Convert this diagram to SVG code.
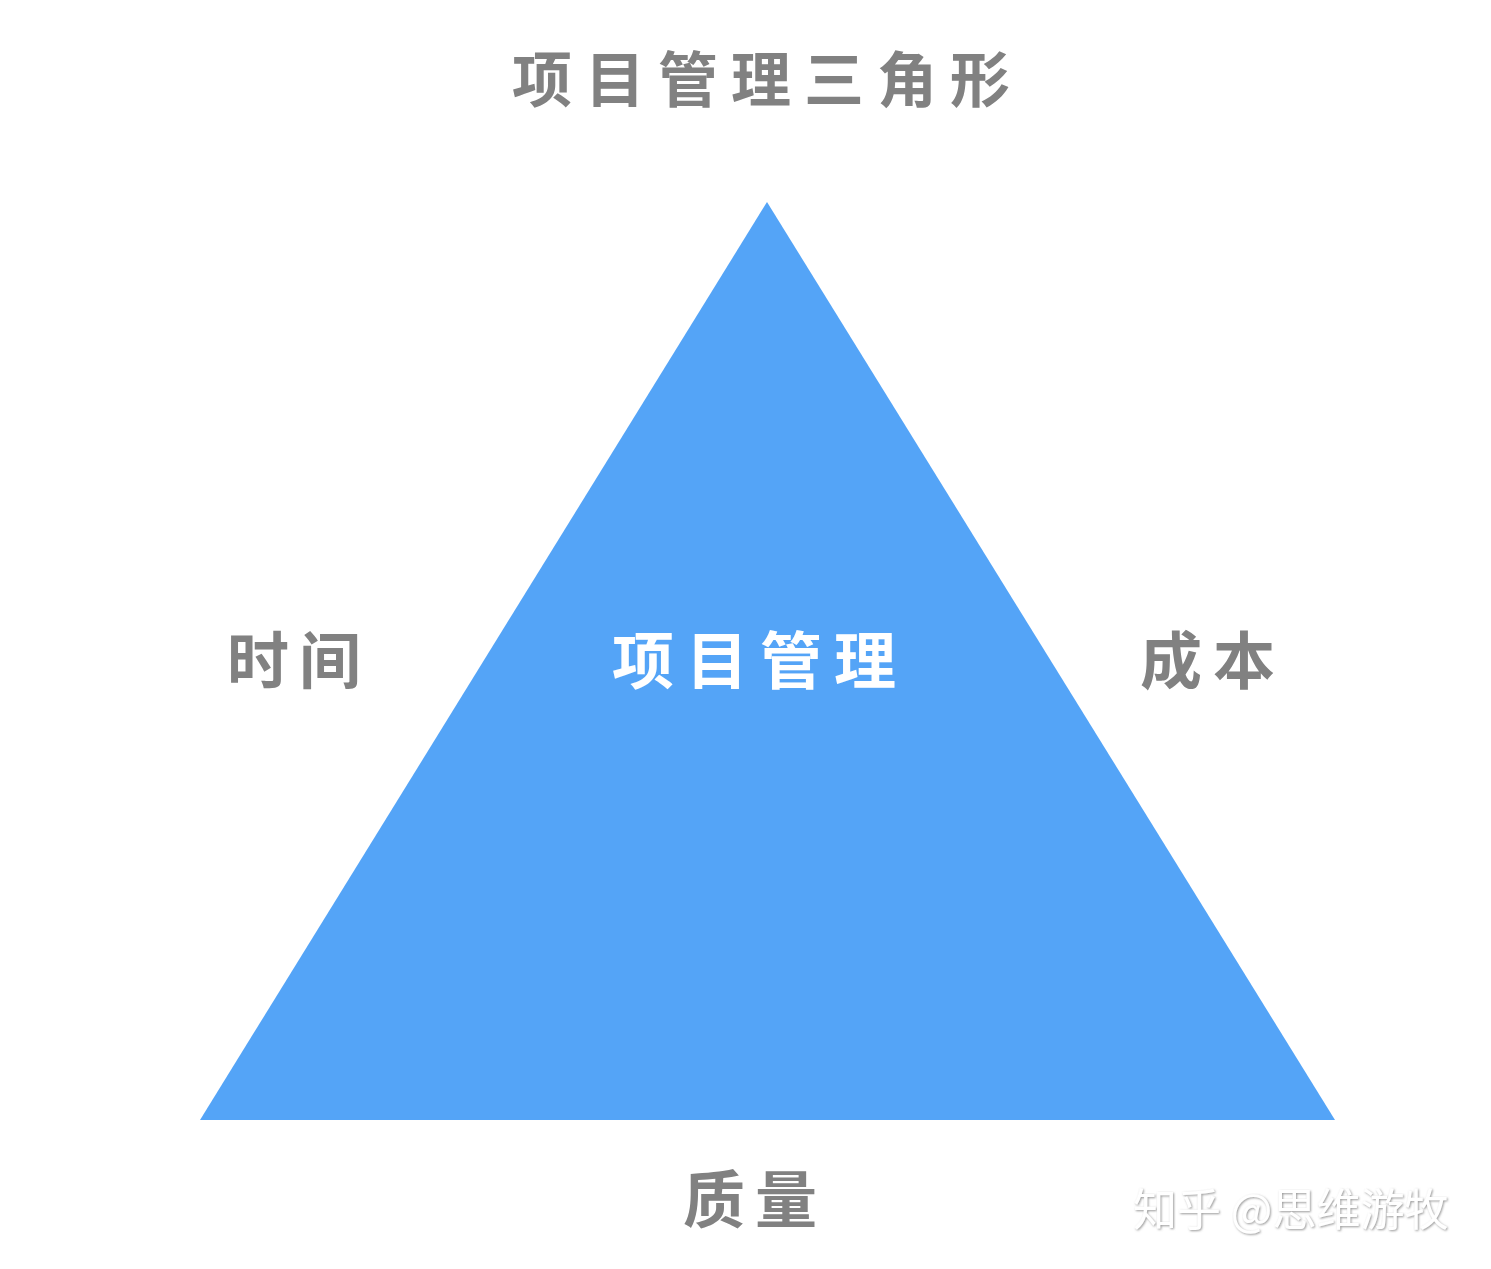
<svg xmlns="http://www.w3.org/2000/svg" width="1491" height="1269" viewBox="0 0 1491 1269">
<style>
.t{font-family:"Noto Sans CJK SC","Noto Sans",sans-serif;font-weight:bold;}
.g{fill:#818181;}
.w{fill:#ffffff;}
.wm{font-family:"Noto Sans CJK SC","Noto Sans",sans-serif;font-weight:normal;font-size:44px;fill:#ffffff;}
</style>
<defs>
<filter id="sh" x="-10%" y="-30%" width="120%" height="160%">
<feDropShadow dx="1" dy="1" stdDeviation="1" flood-color="#8f8f8f" flood-opacity="0.9"/>
</filter>
</defs>
<rect width="1491" height="1269" fill="#ffffff"/>
<g id="title"><text class="t g" x="512" y="102" font-size="60" letter-spacing="13">项目管理三角形</text></g>
<g id="triangle">
<polygon points="767,202 200,1120 1335,1120" fill="#54a4f7"/>
<text class="t w" x="612" y="684" font-size="62" letter-spacing="12">项目管理</text>
</g>
<g id="time"><text class="t g" x="227" y="684" font-size="62" letter-spacing="10">时间</text></g>
<g id="cost"><text class="t g" x="1140" y="684" font-size="62" letter-spacing="11">成本</text></g>
<g id="quality"><text class="t g" x="683" y="1223" font-size="62" letter-spacing="10">质量</text></g>
<g id="connectors"></g>
<g id="watermark"><text class="wm" x="1133" y="1226" filter="url(#sh)">知乎 @思维游牧</text></g>
</svg>
